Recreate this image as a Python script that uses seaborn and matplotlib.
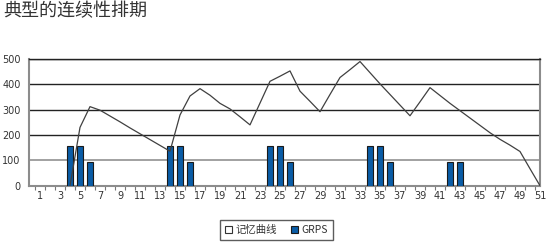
import matplotlib
matplotlib.use("Agg")
import matplotlib.pyplot as plt
import seaborn as sns
from matplotlib.patches import Patch
from matplotlib.ticker import FixedLocator

title = "典型的连续性排期"
line_label = "记忆曲线"
bar_label = "GRPS"

line_weeks = list(range(4, 52))
memory = [0, 230, 312, 298, 275, 252, 228, 205, 182, 159, 136,
          279, 354, 383, 357, 325, 303, 272, 240,
          326, 412, 432, 453, 373, 333, 292,
          360, 427, 458, 490, 446, 402, 360, 318, 276,
          331, 387, 356, 325, 296, 267, 238, 209, 183, 160, 135, 67, 0]

bar_weeks = [4, 5, 6, 14, 15, 16, 24, 25, 26, 34, 35, 36, 42, 43]
grps = [157, 157, 95, 157, 157, 95, 157, 157, 95, 157, 157, 95, 95, 95]

y_ticks = [0, 100, 200, 300, 400, 500]
x_labels = list(range(1, 52, 2))

BLUE = "#0a5ca6"
sns.set_theme(style="white")
plt.rcParams['font.family'] = ['DejaVu Sans', 'Noto Sans CJK SC']

fig = plt.figure(figsize=(5.5, 2.43), dpi=100)
ax = fig.add_axes([29/550, 1-185.7/243, (540-29)/550, (185.7-59)/243])

sns.barplot(x=bar_weeks, y=grps, native_scale=True, width=0.65, color=BLUE,
            edgecolor="#1a1a1a", linewidth=0.8, errorbar=None, ax=ax, zorder=3,
            saturation=1)
sns.lineplot(x=line_weeks, y=memory, color="#404040", lw=0.9, ax=ax, zorder=4)

ax.set_xlim(-0.1, 51)
ax.set_ylim(0, 500)
ax.set_yticks(y_ticks)
ax.set_yticklabels([str(v) for v in y_ticks])
ax.xaxis.set_major_locator(FixedLocator(x_labels))
ax.set_xticklabels([str(v) for v in x_labels])
ax.xaxis.set_minor_locator(FixedLocator([i + 0.5 for i in range(0, 51)]))
ax.tick_params(axis='x', which='major', length=0, pad=3.5, labelsize=7, colors='#333333')
ax.tick_params(axis='x', which='minor', length=3, width=0.8, color='#777777', direction='out', bottom=True)
ax.tick_params(axis='y', which='major', length=0, pad=6, labelsize=7, colors='#333333')
ax.set_xlabel("")
ax.set_ylabel("")

ax.grid(axis='y', color='#222222', lw=1.0, zorder=0)
ax.set_axisbelow(True)
for gl, v in zip(ax.get_ygridlines(), y_ticks):
    if v == 100:
        gl.set_color('#9a9a9a')
        gl.set_linewidth(1.3)

for side in ['left', 'bottom', 'right']:
    ax.spines[side].set_visible(True)
    ax.spines[side].set_color('#8c8c8c')
    ax.spines[side].set_linewidth(1.5)
ax.spines['top'].set_visible(True)
ax.spines['top'].set_color('#222222')
ax.spines['top'].set_linewidth(1.0)

fig.text(3/550, 1-2/243, title, ha='left', va='top', fontsize=13,
         color='#333333', family=['Noto Sans CJK SC', 'DejaVu Sans'])

handles = [Patch(facecolor='white', edgecolor='#333333', linewidth=0.8, label=line_label),
           Patch(facecolor=BLUE, edgecolor='#1a1a1a', linewidth=0.8, label=bar_label)]
leg = fig.legend(handles=handles, loc='center', bbox_to_anchor=(276.5/550, 1-230/243),
                 ncol=2, fontsize=7.5, frameon=True, fancybox=False, edgecolor='#333333',
                 handlelength=0.7, handleheight=0.7, handletextpad=0.35,
                 columnspacing=1.3, borderpad=0.45, borderaxespad=0,
                 prop={'family': ['Noto Sans CJK SC', 'DejaVu Sans'], 'size': 7.5})
leg.get_frame().set_linewidth(1.0)
for t in leg.get_texts():
    t.set_color('#333333')

fig.savefig("out.png", dpi=100)
